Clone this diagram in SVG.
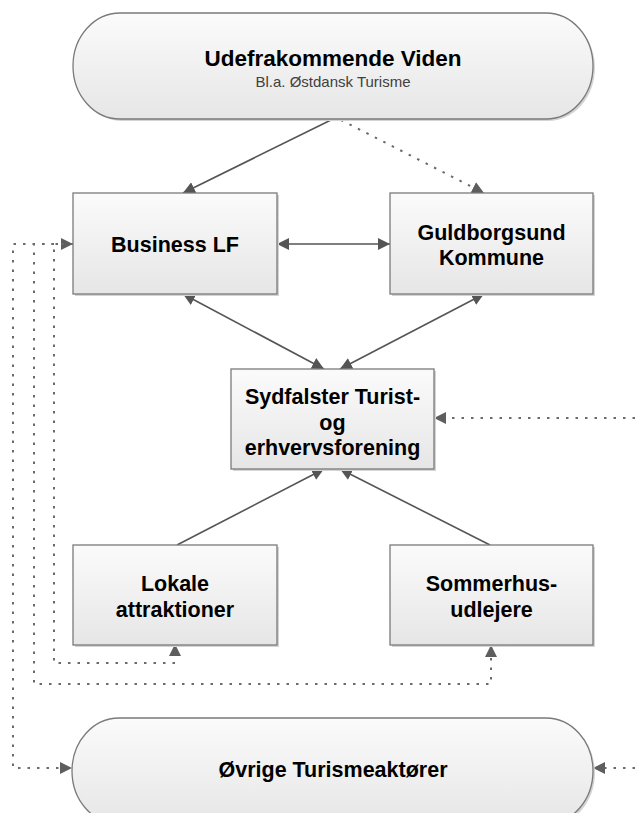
<svg xmlns="http://www.w3.org/2000/svg" width="635" height="813" viewBox="0 0 635 813">
<defs>
<linearGradient id="g" x1="0" y1="0" x2="0" y2="1">
<stop offset="0" stop-color="#fbfbfb"/>
<stop offset="1" stop-color="#e6e6e6"/>
</linearGradient>
<marker id="a" viewBox="0 0 12 12" refX="12" refY="6" markerWidth="12" markerHeight="12" markerUnits="userSpaceOnUse" orient="auto-start-reverse">
<path d="M0,0 L12,6 L0,12 z" fill="#555"/>
</marker>
<marker id="ad" viewBox="0 0 12 12" refX="12" refY="6" markerWidth="12" markerHeight="12" markerUnits="userSpaceOnUse" orient="auto-start-reverse">
<path d="M0,0 L12,6 L0,12 z" fill="#5e5e5e"/>
</marker>
</defs>
<style>
.shape{fill:url(#g);stroke:#7a7a7a;stroke-width:1.3}
.shadow{fill:#d4d4d4}
.t{font-family:"Liberation Sans",Arial,sans-serif;font-weight:bold;font-size:21.5px;fill:#000;text-anchor:middle}
.big{font-size:22.5px}
.s{font-family:"Liberation Sans",Arial,sans-serif;font-size:15px;fill:#404040;text-anchor:middle}
.solid{fill:none;stroke:#555;stroke-width:1.6}
.dot{fill:none;stroke:#6a6a6a;stroke-width:2;stroke-dasharray:2.5 7}
</style>
<rect width="635" height="813" fill="#fff"/>

<g id="connectors">
<path class="solid" d="M333,119 L183,193" marker-end="url(#a)"/>
<path class="dot" d="M341,120 L484,193" marker-end="url(#ad)"/>
<path class="solid" d="M277,244 L390,244" marker-start="url(#a)" marker-end="url(#a)"/>
<path class="solid" d="M183,294 L324,369" marker-start="url(#a)" marker-end="url(#a)"/>
<path class="solid" d="M484,294 L340,369" marker-start="url(#a)" marker-end="url(#a)"/>
<path class="solid" d="M177,545 L324,469" marker-end="url(#a)"/>
<path class="solid" d="M490,545 L340,469" marker-end="url(#a)"/>
<path class="dot" d="M635,418 L434,418" marker-end="url(#ad)"/>
<path class="dot" d="M635,768 L593,768" marker-end="url(#ad)"/>
<path class="dot" d="M175,644 L175,663 L54,663 L54,244 L73,244" marker-start="url(#ad)" marker-end="url(#ad)"/>
<path class="dot" d="M73,244 L34,244 L34,684 L491,684 L491,645" marker-end="url(#ad)"/>
<path class="dot" d="M73,244 L13,244 L13,768 L72,768" marker-end="url(#ad)"/>
</g>

<g id="udefra">
<rect class="shadow" x="75" y="15" width="520" height="106" rx="47" ry="53"/>
<rect class="shape" x="73" y="13" width="520" height="106" rx="47" ry="53"/>
<text class="t big" x="333" y="65.5">Udefrakommende Viden</text>
<text class="s" x="333" y="87">Bl.a. Østdansk Turisme</text>
</g>

<g id="business">
<rect class="shadow" x="75" y="195" width="204" height="101"/>
<rect class="shape" x="73" y="193" width="204" height="101"/>
<text class="t" x="175" y="252">Business LF</text>
</g>

<g id="guldborgsund">
<rect class="shadow" x="392" y="195" width="203" height="101"/>
<rect class="shape" x="390" y="193" width="203" height="101"/>
<text class="t" x="491.5" y="240">Guldborgsund</text>
<text class="t" x="491.5" y="265">Kommune</text>
</g>

<g id="sydfalster">
<rect class="shadow" x="233" y="371" width="203" height="100"/>
<rect class="shape" x="231" y="369" width="203" height="100"/>
<text class="t" x="332.5" y="404">Sydfalster Turist-</text>
<text class="t" x="332.5" y="430">og</text>
<text class="t" x="332.5" y="455">erhvervsforening</text>
</g>

<g id="lokale">
<rect class="shadow" x="75" y="547" width="204" height="100"/>
<rect class="shape" x="73" y="545" width="204" height="100"/>
<text class="t" x="175" y="591">Lokale</text>
<text class="t" x="175" y="617">attraktioner</text>
</g>

<g id="sommerhus">
<rect class="shadow" x="392" y="547" width="203" height="100"/>
<rect class="shape" x="390" y="545" width="203" height="100"/>
<text class="t" x="491.5" y="591">Sommerhus-</text>
<text class="t" x="491.5" y="617">udlejere</text>
</g>

<g id="ovrige">
<rect class="shadow" x="74" y="720" width="521" height="106" rx="47" ry="53"/>
<rect class="shape" x="72" y="718" width="521" height="106" rx="47" ry="53"/>
<text class="t" x="333" y="777">Øvrige Turismeaktører</text>
</g>
</svg>
